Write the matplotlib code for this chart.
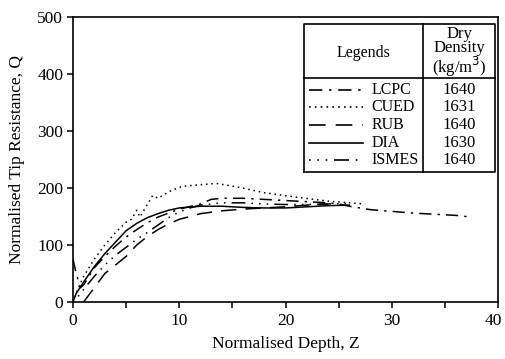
import matplotlib
matplotlib.use("Agg")
import matplotlib.pyplot as plt
import matplotlib.transforms as mtransforms
from matplotlib.lines import Line2D
from matplotlib.ticker import MultipleLocator, FixedLocator

plt.rcParams['font.family'] = ['Liberation Serif', 'DejaVu Serif']

# ---- data ----
lcpc_x = [0, 0.3, 0.7, 1.0, 1.5, 2, 3, 4, 5, 6, 7, 8, 10, 12, 13, 14, 16, 18, 20, 22, 24, 25, 26, 27, 28, 30, 32, 34, 36, 37.5]
lcpc_y = [75, 50, 25, 30, 45, 60, 80, 98, 114, 127, 139, 149, 163, 172, 180, 182, 182, 180, 178, 176, 174, 172, 168, 165, 162, 159, 156, 154, 152, 149]

cued_x = [0, 0.5, 1, 2, 3, 4, 5, 5.5, 6, 6.3, 6.8, 7.5, 8, 8.7, 9.3, 10.3, 11.5, 13.5, 15.7, 17.9, 21, 24, 26, 27.5]
cued_y = [0, 25, 45, 75, 100, 122, 140, 145, 161, 149, 165, 187, 182, 190, 196, 203, 205, 208, 201, 192, 184, 177, 174, 172]

rub_x = [1.0, 2, 3, 4, 5, 6, 7, 8, 9, 10, 11, 12, 14, 16, 18, 20, 22, 24]
rub_y = [0, 25, 50, 65, 80, 100, 115, 127, 137, 145, 150, 155, 160, 163, 165, 167, 170, 172]

dia_x = [0, 0.3, 1, 2, 3, 4, 5, 6, 7, 8, 9, 10, 12, 14, 16, 18, 20, 22, 24, 26]
dia_y = [0, 15, 35, 62, 85, 105, 125, 138, 148, 155, 161, 165, 168, 168, 166, 165, 165, 167, 169, 170]

ismes_x = [0, 0.5, 1, 2, 3, 4, 5, 6, 7, 8, 9, 10, 11, 12, 14, 16, 18, 20, 22, 24, 26]
ismes_y = [0, 10, 22, 45, 65, 82, 96, 110, 122, 135, 148, 158, 165, 170, 174, 174, 172, 171, 171, 172, 173]

x_ticks = [0, 10, 20, 30, 40]
x_tick_labels = ['0', '10', '20', '30', '40']

names = ['LCPC', 'CUED', 'RUB', 'DIA', 'ISMES']
densities = ['1640', '1631', '1640', '1630', '1640']

styles = [(0, (8, 4, 1.5, 4)), (0, (1, 2.5)), (0, (10, 6)), '-', (0, (1, 4, 1, 4, 1, 4, 9, 4))]
series = [(lcpc_x, lcpc_y), (cued_x, cued_y), (rub_x, rub_y), (dia_x, dia_y), (ismes_x, ismes_y)]

fig = plt.figure(figsize=(5.05, 3.59), dpi=100)
ax = fig.add_axes([73/505, 1-302/359, 425/505, 285/359])

for (x, y), ls in zip(series, styles):
    ax.plot(x, y, color='black', lw=1.1, linestyle=ls)

ax.set_xlim(0, 40)
ax.set_ylim(0, 500)
ax.set_xticks(x_ticks)
ax.set_xticklabels(x_tick_labels[:-1] + [''])
ax.xaxis.set_minor_locator(MultipleLocator(5))
ax.yaxis.set_major_locator(MultipleLocator(100))
ax.tick_params(axis='both', which='both', direction='out', length=4, width=1.1,
               labelsize=12.5, colors='black')
ax.tick_params(axis='x', pad=4)
ax.tick_params(axis='y', pad=3)
for s in ax.spines.values():
    s.set_linewidth(1.2)

# last x tick label placed as text, nudged slightly left so it stays inside the canvas
blend = mtransforms.blended_transform_factory(ax.transData, ax.transAxes)
off = mtransforms.offset_copy(blend, fig=fig, x=-3.5, y=-8, units='points')
ax.text(x_ticks[-1], 0, x_tick_labels[-1], transform=off, ha='center', va='top', fontsize=12.5)

ax.set_xlabel('Normalised Depth, Z', fontsize=12.5, labelpad=5)
ax.set_ylabel('Normalised Tip Resistance, Q', fontsize=12.5, labelpad=9)

# ---- legend table ----
L, R, T, B = 0.544, 0.993, 0.975, 0.456
VD, HD = 0.824, 0.786
tr = ax.transAxes
kw = dict(transform=tr, color='black', lw=1.2, clip_on=False)
ax.add_line(Line2D([L, R, R, L, L], [B, B, T, T, B], **kw))
ax.add_line(Line2D([VD, VD], [B, T], **kw))
ax.add_line(Line2D([L, R], [HD, HD], **kw))

ax.text((L + VD) / 2, 0.874, 'Legends', transform=tr, ha='center', va='center', fontsize=11.5)
ax.text((VD + R) / 2, 0.877, 'Dry\nDensity\n(kg/m$^3$)', transform=tr, ha='center', va='center',
        fontsize=12, linespacing=0.9)

row_y = [0.744, 0.684, 0.621, 0.558, 0.498]
for yv, name, dens, ls in zip(row_y, names, densities, styles):
    ax.add_line(Line2D([0.556, 0.682], [yv, yv], transform=tr, color='black', lw=1.2, linestyle=ls))
    ax.text(0.702, yv, name, transform=tr, ha='left', va='center', fontsize=11.5)
    ax.text((VD + R) / 2, yv, dens, transform=tr, ha='center', va='center', fontsize=12)

fig.savefig('out.png', dpi=100)
